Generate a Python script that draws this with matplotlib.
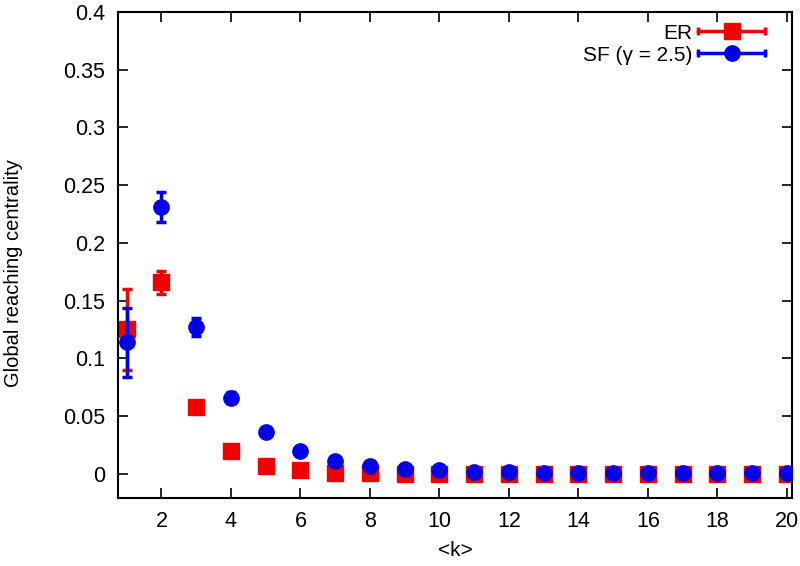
import matplotlib.pyplot as plt
import numpy as np
from matplotlib.lines import Line2D
from matplotlib.legend_handler import HandlerLine2D, HandlerTuple

plt.rcParams['font.family'] = ['Liberation Sans', 'DejaVu Sans']

k = np.arange(1, 21)

er_mean = [0.125, 0.166, 0.058, 0.020, 0.007, 0.003, 0.001, 0.0003, 0.0002, 0.0001,
           0.0, 0.0, 0.0, 0.0, 0.0, 0.0, 0.0, 0.0, 0.0, 0.0]
er_err = [0.035, 0.010, 0.003, 0.002, 0.001, 0.0005, 0.0003, 0.0002, 0.0001, 0.0001,
          0.0, 0.0, 0.0, 0.0, 0.0, 0.0, 0.0, 0.0, 0.0, 0.0]

sf_mean = [0.114, 0.231, 0.127, 0.066, 0.036, 0.020, 0.011, 0.007, 0.004, 0.003,
           0.002, 0.0015, 0.001, 0.001, 0.0008, 0.0007, 0.0006, 0.0005, 0.0005, 0.0004]
sf_err = [0.030, 0.013, 0.008, 0.005, 0.002, 0.001, 0.001, 0.0005, 0.0004, 0.0003,
          0.0002, 0.0002, 0.0001, 0.0001, 0.0001, 0.0001, 0.0001, 0.0001, 0.0001, 0.0001]

red = '#f00000'
blue = '#0000e6'

fig = plt.figure(figsize=(8, 5.66), dpi=100)
ax = fig.add_axes([0.1475, 0.12, 0.8425, 0.859])

ax.errorbar(k, er_mean, yerr=er_err, fmt='s', color=red, ms=11, elinewidth=2.5,
            capsize=3.5, capthick=2.5, zorder=2)
ax.errorbar(k, sf_mean, yerr=sf_err, fmt='o', color=blue, ms=11, elinewidth=2.5,
            capsize=3.5, capthick=2.5, zorder=3)

ax.set_xlim(0.75, 20.15)
ax.set_ylim(-0.021, 0.4)
ax.set_xticks(np.arange(2, 21, 2))
ax.set_yticks([0, 0.05, 0.1, 0.15, 0.2, 0.25, 0.3, 0.35, 0.4])
ax.set_yticklabels(['0', '0.05', '0.1', '0.15', '0.2', '0.25', '0.3', '0.35', '0.4'])
ax.tick_params(direction='in', top=True, right=True, length=7, width=1.2,
               labelsize=15.5, pad=9)
for s in ax.spines.values():
    s.set_linewidth(1.5)

ax.set_xlabel('<k>', fontsize=15, labelpad=7)
ax.set_ylabel('Global reaching centrality', fontsize=14.5)
ax.yaxis.set_label_coords(-0.141, 0.463)

# gnuplot-style keys: line with marker and end caps
h_er = Line2D([0], [0], color=red, lw=2.5, marker='s', ms=11)
c_er = Line2D([0], [0], color=red, lw=0, marker='|', ms=5.5, mew=2.5)
h_sf = Line2D([0], [0], color=blue, lw=2.5, marker='o', ms=11)
c_sf = Line2D([0], [0], color=blue, lw=0, marker='|', ms=5.5, mew=2.5)

hmap = {h_er: HandlerLine2D(numpoints=1), h_sf: HandlerLine2D(numpoints=1),
        c_er: HandlerLine2D(numpoints=2, marker_pad=0),
        c_sf: HandlerLine2D(numpoints=2, marker_pad=0),
        tuple: HandlerTuple(ndivide=1, pad=0)}
ax.legend([(h_er, c_er), (h_sf, c_sf)], ['ER', 'SF (\u03b3 = 2.5)'],
          handler_map=hmap, loc='upper right', frameon=False, markerfirst=False,
          fontsize=15, handlelength=3.2, handletextpad=0.3, labelspacing=0.15,
          borderpad=0, borderaxespad=0, bbox_to_anchor=(0.96, 0.976))

fig.savefig('out.png', dpi=100)
